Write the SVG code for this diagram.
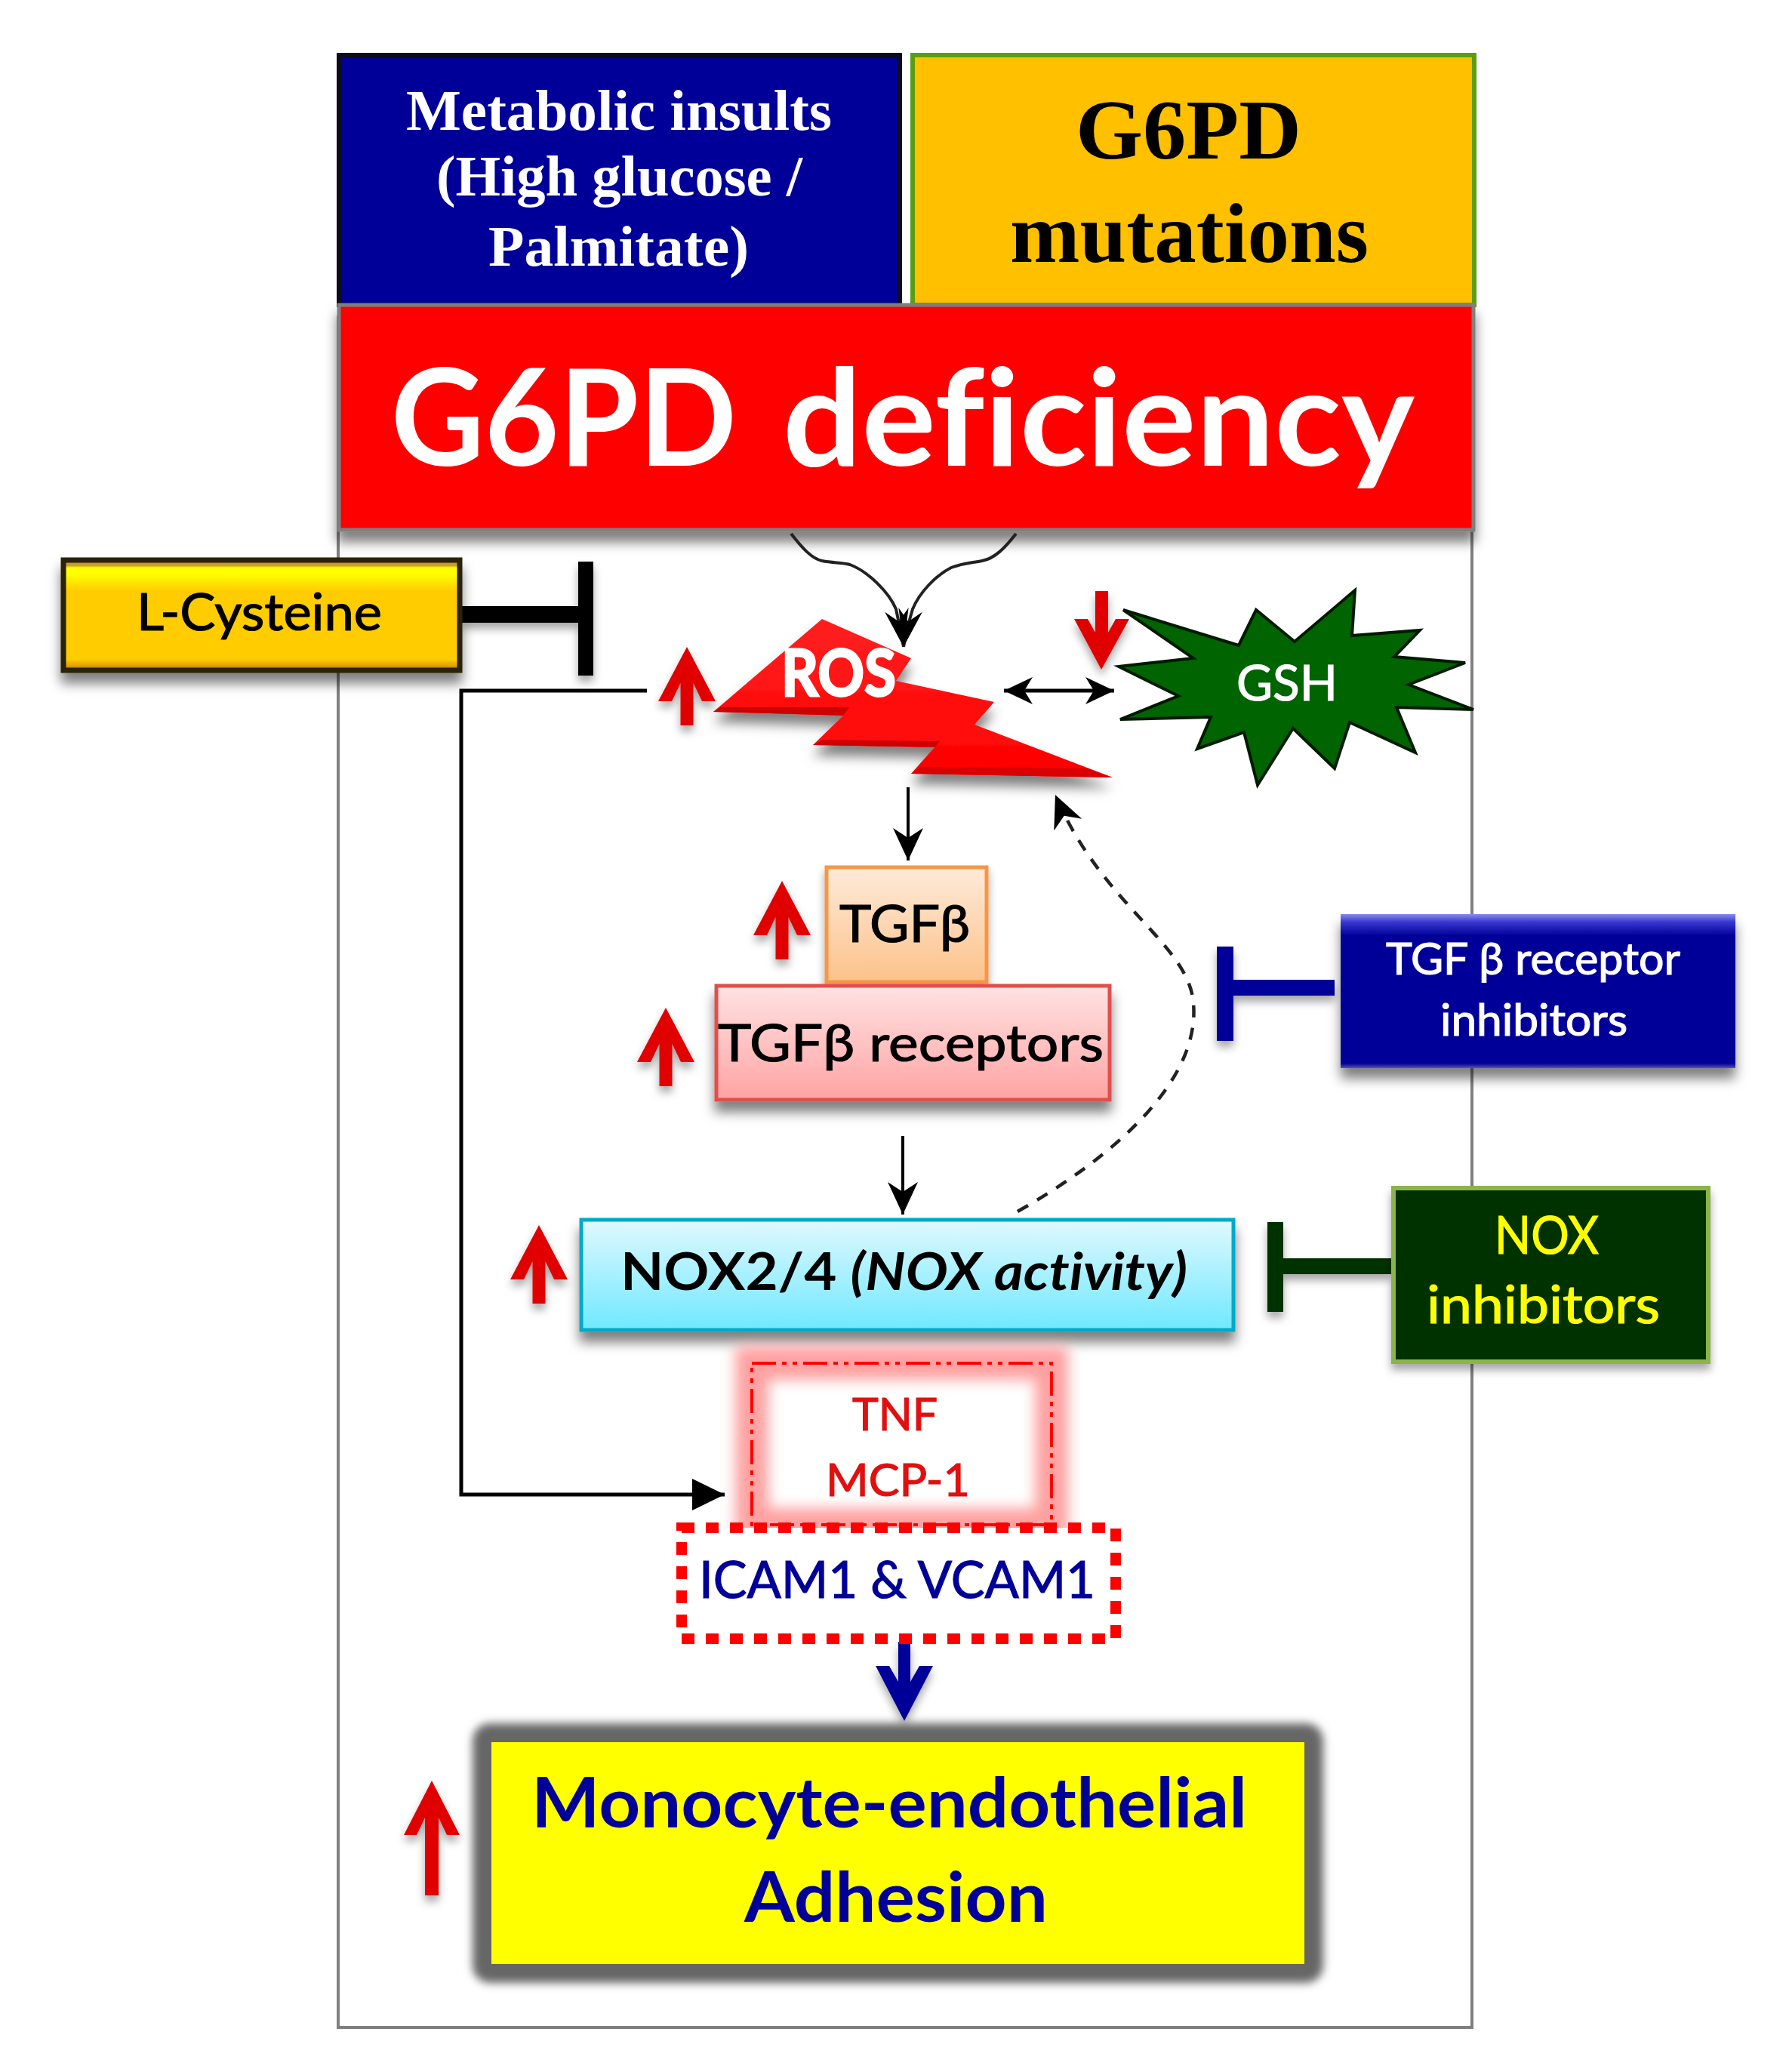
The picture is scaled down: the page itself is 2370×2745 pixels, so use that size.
<svg xmlns="http://www.w3.org/2000/svg" width="2370" height="2745" viewBox="0 0 2370 2745">
<style>
text{font-family:"Lato","Open Sans","Noto Sans",sans-serif;font-variant-ligatures:none}
.serif{font-family:"Liberation Serif","Times New Roman",serif;font-weight:700}
.m{stroke-width:1.2}
.ln{fill:none;stroke:#000;stroke-width:5}
.red{fill:#e00000}
</style>
<defs>
<filter id="sh" filterUnits="userSpaceOnUse" x="0" y="0" width="2370" height="2745"><feDropShadow dx="0" dy="14" stdDeviation="8" flood-color="#000" flood-opacity=".5"/></filter>
<filter id="sh2" filterUnits="userSpaceOnUse" x="0" y="0" width="2370" height="2745"><feDropShadow dx="0" dy="8" stdDeviation="6" flood-color="#000" flood-opacity=".35"/></filter>
<filter id="blur8" filterUnits="userSpaceOnUse" x="0" y="0" width="2370" height="2745"><feGaussianBlur stdDeviation="9"/></filter>
<filter id="blur5" filterUnits="userSpaceOnUse" x="0" y="0" width="2370" height="2745"><feGaussianBlur stdDeviation="6"/></filter>
<marker id="st" markerUnits="userSpaceOnUse" markerWidth="50" markerHeight="50" refX="43" refY="25" orient="auto"><path d="M0,5 L43,25 L0,45 L13,25 Z" fill="#000"/></marker>
<marker id="st3" markerUnits="userSpaceOnUse" markerWidth="60" markerHeight="50" refX="50" refY="25" orient="auto"><path d="M0,9 L50,25 L0,41 L16,25 Z" fill="#000"/></marker>
<marker id="st2" markerUnits="userSpaceOnUse" markerWidth="50" markerHeight="50" refX="38" refY="25" orient="auto-start-reverse"><path d="M0,7 L38,25 L0,43 L11,25 Z" fill="#000"/></marker>
<marker id="tri" markerUnits="userSpaceOnUse" markerWidth="50" markerHeight="50" refX="43" refY="25" orient="auto"><path d="M0,4 L43,25 L0,46 Z" fill="#000"/></marker>
<linearGradient id="gCys" x1="0" y1="0" x2="0" y2="1"><stop offset="0" stop-color="#b8962e"/><stop offset=".05" stop-color="#c9a030"/><stop offset=".07" stop-color="#ffff00"/><stop offset=".13" stop-color="#ffff00"/><stop offset=".28" stop-color="#ffcc00"/><stop offset=".9" stop-color="#ffcc00"/><stop offset=".96" stop-color="#dfa000"/><stop offset="1" stop-color="#8a6a10"/></linearGradient>
<linearGradient id="gTgf" x1="0" y1="0" x2="0" y2="1"><stop offset="0" stop-color="#feead9"/><stop offset="1" stop-color="#fcc28a"/></linearGradient>
<linearGradient id="gRec" x1="0" y1="0" x2="0" y2="1"><stop offset="0" stop-color="#ffe2e2"/><stop offset="1" stop-color="#ffa3a3"/></linearGradient>
<linearGradient id="gNox" x1="0" y1="0" x2="0" y2="1"><stop offset="0" stop-color="#e0f9ff"/><stop offset="1" stop-color="#6fe8ff"/></linearGradient>
<linearGradient id="gBlue" x1="0" y1="0" x2="0" y2="1"><stop offset="0" stop-color="#8a8af0"/><stop offset=".05" stop-color="#3a3ad0"/><stop offset=".14" stop-color="#000099"/><stop offset=".97" stop-color="#000099"/><stop offset="1" stop-color="#5555b5"/></linearGradient>
<linearGradient id="gBolt" x1="0" y1="0" x2="0" y2="1"><stop offset="0" stop-color="#ff2020"/><stop offset="1" stop-color="#ff0000"/></linearGradient>
<polygon id="up" points="0,0 38,72 20,72 8.5,48 8.5,104 -8.5,104 -8.5,48 -20,72 -38,72"/>
</defs>
<rect width="2370" height="2745" fill="#fff"/>
<rect id="frame" x="448" y="420" width="1502" height="2266" fill="none" stroke="#808080" stroke-width="4"/>

<g id="metabolic-insults">
<rect x="449" y="73" width="743" height="331" fill="#000099" stroke="#0c0c1c" stroke-width="6"/>
<text class="serif" x="538" y="172" font-size="76" fill="#fff" textLength="564" lengthAdjust="spacingAndGlyphs">Metabolic insults</text>
<text class="serif" x="578" y="259" font-size="76" fill="#fff" textLength="485" lengthAdjust="spacingAndGlyphs">(High glucose /</text>
<text class="serif" x="647" y="352" font-size="76" fill="#fff" textLength="345" lengthAdjust="spacingAndGlyphs">Palmitate)</text>
</g>
<g id="g6pd-mutations">
<rect x="1209" y="73" width="744" height="331" fill="#ffc000" stroke="#5a9e10" stroke-width="6"/>
<text class="serif" x="1425" y="210" font-size="112" fill="#000" textLength="299" lengthAdjust="spacingAndGlyphs">G6PD</text>
<text class="serif" x="1338" y="347" font-size="112" fill="#000" textLength="475" lengthAdjust="spacingAndGlyphs">mutations</text>
</g>
<g id="g6pd-deficiency">
<rect x="449" y="404" width="1503" height="298" fill="#ff0000" stroke="#7f7f7f" stroke-width="5" filter="url(#sh)"/>
<text y="617" font-size="178" font-weight="700" fill="#fff"><tspan x="518" textLength="458" lengthAdjust="spacingAndGlyphs">G6PD</tspan> <tspan x="1037" textLength="837" lengthAdjust="spacingAndGlyphs">deficiency</tspan></text>
</g>

<g id="connectors">
<path class="ln" style="stroke:#222;stroke-width:4" d="M1048,707 C1062,725 1075,740 1089,743 C1105,746 1115,745 1126,748 C1150,757 1178,785 1187,807 Q1192,830 1197,857" marker-end="url(#st3)"/>
<path class="ln" style="stroke:#222;stroke-width:4" d="M1346,707 C1332,725 1318,740 1301,743 C1285,746 1272,747 1260,752 C1240,762 1218,785 1209,807 Q1202,830 1197,857" marker-end="url(#st3)"/>
<path class="ln" d="M857,915 H611 V1980 H960" marker-end="url(#tri)"/>
<path class="ln" d="M1330,915 H1476" marker-start="url(#st2)" marker-end="url(#st2)"/>
<path class="ln" style="stroke-width:4" d="M1203,1043 V1140" marker-end="url(#st)"/>
<path class="ln" style="stroke-width:4" d="M1196,1505 V1609" marker-end="url(#st)"/>
<path class="ln" style="stroke:#222;stroke-width:4.5" d="M1348,1605 C1480,1530 1590,1430 1581,1329 C1575,1250 1460,1200 1398,1053" stroke-dasharray="16 14" marker-end="url(#st)"/>
<g fill="#000" filter="url(#sh2)"><rect x="612" y="803" width="160" height="22"/><rect x="766" y="744" width="20" height="151"/></g>
<g fill="#000099" filter="url(#sh2)"><rect x="1632" y="1298" width="136" height="21"/><rect x="1612" y="1254" width="22" height="125"/></g>
<g fill="#003300" filter="url(#sh2)"><rect x="1698" y="1667" width="145" height="21"/><rect x="1679" y="1619" width="21" height="119"/></g>
<polygon fill="#000099" filter="url(#sh2)" points="1190,2175 1206,2175 1206,2228 1218,2207 1236,2207 1198,2280 1160,2207 1178,2207 1190,2228"/>
</g>

<g id="l-cysteine">
<rect x="84" y="742" width="525" height="146" fill="url(#gCys)" stroke="#2a2008" stroke-width="7" filter="url(#sh)"/>
<text class="m" x="181" y="835" font-size="68" fill="#000" stroke="#000" textLength="325" lengthAdjust="spacingAndGlyphs">L-Cysteine</text>
</g>
<g id="ros">
<polygon points="945,943 1089,820 1207,872 1187,902 1317,930 1291,960 1474,1030 1207,1025 1238,990 1077,987 1117,948" fill="url(#gBolt)" filter="url(#sh)"/>
<polygon points="945,943 955,937 1125,937 1117,948" fill="#cc0000"/>
<polygon points="1077,987 1090,980 1245,982 1238,990" fill="#cc0000"/>
<polygon points="1207,1025 1220,1016 1440,1018 1474,1030" fill="#d80000"/>
<text x="1035" y="922" font-size="86" font-weight="700" fill="#fff" stroke="#fff" stroke-width="3" textLength="152" lengthAdjust="spacingAndGlyphs">ROS</text>
</g>
<g id="gsh">
<polygon points="1488,808 1641,855 1664,808 1715,850 1795,782 1791,842 1881,835 1847,870 1941,878 1866,907 1952,940 1850,937 1875,997 1788,957 1768,1018 1713,965 1666,1040 1648,970 1586,992 1604,950 1484,953 1561,922 1482,883 1581,872" fill="#006400" stroke="#001a00" stroke-width="4"/>
<text class="m" x="1638" y="928" font-size="66" fill="#fff" stroke="#fff" textLength="134" lengthAdjust="spacingAndGlyphs">GSH</text>
</g>
<g id="tgfb">
<rect x="1095" y="1149" width="212" height="152" fill="url(#gTgf)" stroke="#f79646" stroke-width="5" filter="url(#sh2)"/>
<text class="m" x="1112" y="1248" font-size="68" fill="#000" stroke="#000" textLength="173" lengthAdjust="spacingAndGlyphs">TGFβ</text>
</g>
<g id="tgfb-receptors">
<rect x="949" y="1306" width="521" height="151" fill="url(#gRec)" stroke="#e0504d" stroke-width="5" filter="url(#sh)"/>
<text class="m" x="951" y="1406" font-size="68" fill="#000" stroke="#000" textLength="511" lengthAdjust="spacingAndGlyphs">TGFβ receptors</text>
</g>
<g id="tgfb-receptor-inhibitors">
<rect x="1776" y="1211" width="523" height="204" fill="url(#gBlue)" filter="url(#sh)"/>
<text class="m" x="1836" y="1291" font-size="58" fill="#fff" stroke="#fff" textLength="390" lengthAdjust="spacingAndGlyphs">TGF β receptor</text>
<text class="m" x="1908" y="1372" font-size="58" fill="#fff" stroke="#fff" textLength="248" lengthAdjust="spacingAndGlyphs">inhibitors</text>
</g>
<g id="nox">
<rect x="770" y="1616" width="864" height="146" fill="url(#gNox)" stroke="#00aac8" stroke-width="5" filter="url(#sh)"/>
<text x="822" y="1709" font-size="68" font-weight="700" fill="#000" textLength="751" lengthAdjust="spacingAndGlyphs">NOX2/4 <tspan font-style="italic">(NOX activity)</tspan></text>
</g>
<g id="nox-inhibitors">
<rect x="1846" y="1574" width="417" height="230" fill="#003300" stroke="#8cb44c" stroke-width="6" filter="url(#sh2)"/>
<text class="m" x="1980" y="1661" font-size="70" fill="#ffff00" stroke="#ffff00" textLength="138" lengthAdjust="spacingAndGlyphs">NOX</text>
<text class="m" x="1890" y="1753" font-size="70" fill="#ffff00" stroke="#ffff00" textLength="309" lengthAdjust="spacingAndGlyphs">inhibitors</text>
</g>
<g id="tnf-mcp1">
<rect x="996" y="1806" width="397" height="214" fill="#fff"/>
<rect x="996" y="1806" width="397" height="214" fill="none" stroke="#ffa0a0" stroke-width="44" filter="url(#blur8)"/>
<rect x="996" y="1806" width="397" height="214" fill="none" stroke="#ff0000" stroke-width="4" stroke-dasharray="32 8 6 8 6 8"/>
<text class="m" x="1129" y="1895" font-size="60" fill="#e01010" stroke="#e01010" textLength="113" lengthAdjust="spacingAndGlyphs">TNF</text>
<text class="m" x="1094" y="1982" font-size="60" fill="#e01010" stroke="#e01010" textLength="191" lengthAdjust="spacingAndGlyphs">MCP-1</text>
</g>
<g id="icam-vcam">
<rect x="903" y="2024" width="575" height="147" fill="#fff" stroke="#ff0000" stroke-width="14" stroke-dasharray="17 15"/>
<text class="m" x="926" y="2117" font-size="68" fill="#000099" stroke="#000099" textLength="525" lengthAdjust="spacingAndGlyphs">ICAM1 &amp; VCAM1</text>
</g>
<g id="adhesion">
<rect x="641" y="2298" width="1097" height="314" rx="8" fill="#666" stroke="#666" stroke-width="30" filter="url(#blur5)"/>
<rect x="651" y="2308" width="1077" height="294" fill="#ffff00"/>
<text x="704" y="2421" font-size="92" font-weight="700" fill="#000099" textLength="948" lengthAdjust="spacingAndGlyphs">Monocyte-endothelial</text>
<text x="986" y="2546" font-size="92" font-weight="700" fill="#000099" textLength="402" lengthAdjust="spacingAndGlyphs">Adhesion</text>
</g>

<g id="up-arrows" filter="url(#sh2)">
<use href="#up" class="red" x="910" y="857"/>
<use href="#up" class="red" x="1036" y="1167"/>
<use href="#up" class="red" x="882" y="1335"/>
<use href="#up" class="red" x="714" y="1623"/>
<polygon class="red" points="572,2359 609,2431 592,2431 581,2408 581,2511 563,2511 563,2408 552,2431 535,2431"/>
<polygon class="red" points="1451,783 1468,783 1468,838 1478,820 1496,820 1459,887 1423,820 1441,820 1451,838"/>
</g>
</svg>
